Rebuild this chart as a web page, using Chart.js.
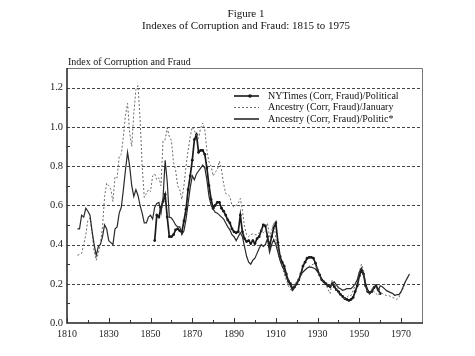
<!DOCTYPE html>
<html><head><meta charset="utf-8">
<script src="https://cdn.jsdelivr.net/npm/chart.js@4/dist/chart.umd.min.js"></script>
<style>html,body{margin:0;padding:0;background:#fff}canvas{display:block}</style>
</head><body>
<canvas id="c" width="475" height="356"></canvas>
<script>
const titleLines = ["Figure 1", "Indexes of Corruption and Fraud: 1815 to 1975"];
const yAxisTitle = "Index of Corruption and Fraud";
const seriesLabels = ["NYTimes (Corr, Fraud)/Political", "Ancestry (Corr, Fraud)/January", "Ancestry (Corr, Fraud)/Politic*"];
const xTickValues = [1810, 1830, 1850, 1870, 1890, 1910, 1930, 1950, 1970];
const xMinorTicks = [1820, 1840, 1860, 1880, 1900, 1920, 1940, 1960];
const yTickValues = [0, 0.2, 0.4, 0.6, 0.8, 1.0, 1.2];
const yMinorTicks = [0.1, 0.3, 0.5, 0.7, 0.9, 1.1];

const years = [
1815,1816,1817,1818,1819,1820,1821,1822,1823,1824,
1825,1826,1827,1828,1829,1830,1831,1832,1833,1834,
1835,1836,1837,1838,1839,1840,1841,1842,1843,1844,
1845,1846,1847,1848,1849,1850,1851,1852,1853,1854,
1855,1856,1857,1858,1859,1860,1861,1862,1863,1864,
1865,1866,1867,1868,1869,1870,1871,1872,1873,1874,
1875,1876,1877,1878,1879,1880,1881,1882,1883,1884,
1885,1886,1887,1888,1889,1890,1891,1892,1893,1894,
1895,1896,1897,1898,1899,1900,1901,1902,1903,1904,
1905,1906,1907,1908,1909,1910,1911,1912,1913,1914,
1915,1916,1917,1918,1919,1920,1921,1922,1923,1924,
1925,1926,1927,1928,1929,1930,1931,1932,1933,1934,
1935,1936,1937,1938,1939,1940,1941,1942,1943,1944,
1945,1946,1947,1948,1949,1950,1951,1952,1953,1954,
1955,1956,1957,1958,1959,1960,1961,1962,1963,1964,
1965,1966,1967,1968,1969,1970,1971,1972,1973,1974];

const nytimesPolitical = [
null,null,null,null,null,null,null,null,null,null,
null,null,null,null,null,null,null,null,null,null,
null,null,null,null,null,null,null,null,null,null,
null,null,null,null,null,null,null,0.42,0.55,0.54,
0.59,0.62,0.655,0.54,0.44,0.44,0.45,0.475,0.48,0.47,
0.465,0.52,0.58,0.68,0.75,0.83,0.935,0.96,0.87,0.88,
0.88,0.86,0.79,0.70,0.63,0.585,0.60,0.615,0.615,0.585,
0.57,0.55,0.525,0.51,0.48,0.465,0.46,0.465,0.55,0.465,
0.43,0.415,0.42,0.405,0.42,0.405,0.43,0.44,0.47,0.50,
0.495,0.44,0.39,0.44,0.485,0.51,0.41,0.34,0.31,0.29,
0.25,0.215,0.20,0.175,0.185,0.20,0.22,0.25,0.29,0.31,
0.33,0.335,0.335,0.33,0.305,0.27,0.245,0.22,0.21,0.20,
0.19,0.185,0.20,0.185,0.17,0.16,0.145,0.135,0.125,0.12,
0.115,0.12,0.13,0.16,0.19,0.24,0.27,0.25,0.19,0.16,
0.155,0.16,0.18,0.19,0.17,0.15,null,null,null,null,
null,null,null,null,null,null,null,null,null,null];

const ancestryJanuary = [
0.345,0.35,0.355,0.40,0.45,0.525,0.535,0.46,0.365,0.32,
0.355,0.405,0.49,0.645,0.713,0.70,0.68,0.62,0.745,0.74,
0.85,0.86,0.95,1.06,1.12,0.97,0.90,1.07,1.19,1.21,
1.04,0.80,0.64,0.66,0.68,0.67,0.75,0.76,0.73,0.74,
0.70,0.93,0.935,0.995,0.95,0.93,0.82,0.78,0.70,0.68,
0.63,0.70,0.80,0.88,0.95,1.0,0.98,0.96,0.94,0.995,
1.02,0.985,0.88,0.82,0.80,0.75,0.77,0.78,0.825,0.78,
0.71,0.66,0.655,0.645,0.60,0.59,0.60,0.61,0.635,0.575,
0.49,0.45,0.44,0.45,0.455,0.45,0.45,0.46,0.475,0.46,
0.47,0.51,0.44,0.47,0.51,0.43,0.38,0.33,0.29,0.25,
0.22,0.19,0.17,0.165,0.19,0.21,0.225,0.24,0.26,0.27,
0.28,0.29,0.295,0.30,0.29,0.28,0.25,0.22,0.21,0.20,
0.17,0.15,0.22,0.20,0.18,0.15,0.14,0.13,0.125,0.13,
0.14,0.14,0.165,0.19,0.21,0.26,0.30,0.27,0.20,0.16,
0.14,0.175,0.16,0.15,0.14,0.155,0.15,0.145,0.14,0.14,
0.135,0.13,0.125,0.12,0.13,0.16,0.175,0.21,0.22,null];

const ancestryPolitic = [
0.48,0.48,0.55,0.54,0.585,0.57,0.55,0.47,0.40,0.345,
0.39,0.40,0.44,0.50,0.48,0.42,0.41,0.40,0.48,0.49,
0.56,0.59,0.68,0.78,0.87,0.80,0.70,0.645,0.68,0.65,
0.60,0.56,0.51,0.51,0.54,0.55,0.53,0.59,0.61,0.615,
0.56,0.64,0.83,0.72,0.54,0.535,0.52,0.50,0.49,0.49,
0.45,0.47,0.53,0.61,0.69,0.75,0.73,0.76,0.775,0.79,
0.805,0.79,0.73,0.645,0.60,0.58,0.565,0.56,0.55,0.54,
0.53,0.51,0.49,0.475,0.45,0.44,0.42,0.44,0.46,0.44,
0.39,0.34,0.31,0.30,0.32,0.33,0.355,0.38,0.40,0.39,
0.40,0.43,0.36,0.40,0.425,0.40,0.36,0.32,0.29,0.27,
0.235,0.21,0.19,0.165,0.18,0.20,0.22,0.25,0.26,0.27,
0.28,0.285,0.285,0.28,0.275,0.26,0.245,0.22,0.21,0.20,
0.19,0.185,0.20,0.21,0.195,0.18,0.175,0.167,0.17,0.175,
0.175,0.175,0.185,0.20,0.22,0.26,0.28,0.25,0.20,0.17,
0.15,0.16,0.185,0.19,0.165,0.19,0.185,0.175,0.165,0.16,
0.155,0.15,0.14,0.145,0.145,0.16,0.185,0.21,0.23,0.25];

const toPoints = vals => years.map((y, i) => ({x: y, y: vals[i]})).filter(p => p.y !== null);
const SERIF = '"Liberation Serif", "Times New Roman", serif';

const styles = [
  {color: '#1a1a1a', width: 1.7, dash: [], radius: 1.4},
  {color: '#6a6a6a', width: 1, dash: [2, 2], radius: 0},
  {color: '#2a2a2a', width: 1.2, dash: [], radius: 0}
];
const seriesData = [nytimesPolitical, ancestryJanuary, ancestryPolitic];

const datasets = seriesData.map((vals, i) => ({
  label: seriesLabels[i],
  data: toPoints(vals),
  borderColor: styles[i].color,
  backgroundColor: styles[i].color,
  borderWidth: styles[i].width,
  borderDash: styles[i].dash,
  pointRadius: styles[i].radius,
  pointBorderWidth: 0,
  pointHoverRadius: 0,
  tension: 0,
  fill: false,
  spanGaps: false
})).reverse();

const framePlugin = {
  id: 'frame',
  beforeDatasetsDraw(chart) {
    const {ctx, chartArea: a, scales: {y}} = chart;
    ctx.save();
    ctx.strokeStyle = '#444';
    ctx.lineWidth = 1;
    ctx.setLineDash([3, 2]);
    yTickValues.forEach(v => {
      if (v === 0) return;
      const py = Math.round(y.getPixelForValue(v)) + 0.5;
      ctx.beginPath(); ctx.moveTo(a.left, py); ctx.lineTo(a.right, py); ctx.stroke();
    });
    ctx.restore();
  },
  afterDraw(chart) {
    const {ctx, chartArea: a, scales: {x, y}} = chart;
    ctx.save();
    ctx.setLineDash([]);
    ctx.strokeStyle = '#777';
    ctx.lineWidth = 1;
    ctx.beginPath();
    ctx.moveTo(a.left, a.top + 0.5); ctx.lineTo(a.right + 0.5, a.top + 0.5); ctx.lineTo(a.right + 0.5, a.bottom);
    ctx.stroke();
    ctx.strokeStyle = '#222';
    ctx.lineWidth = 1.5;
    ctx.beginPath();
    ctx.moveTo(a.left, a.top); ctx.lineTo(a.left, a.bottom); ctx.lineTo(a.right + 1, a.bottom);
    ctx.stroke();
    ctx.lineWidth = 1;
    ctx.strokeStyle = '#333';
    const xt = (v, len) => { const px = Math.round(x.getPixelForValue(v)) + 0.5; ctx.beginPath(); ctx.moveTo(px, a.bottom); ctx.lineTo(px, a.bottom - len); ctx.stroke(); };
    const yt = (v, len) => { const py = Math.round(y.getPixelForValue(v)) + 0.5; ctx.beginPath(); ctx.moveTo(a.left, py); ctx.lineTo(a.left + len, py); ctx.stroke(); };
    xTickValues.forEach(v => xt(v, 5));
    xMinorTicks.forEach(v => xt(v, 3));
    yMinorTicks.forEach(v => yt(v, 3));
    ctx.fillStyle = '#111';
    ctx.textAlign = 'center';
    ctx.textBaseline = 'middle';
    ctx.font = '11px ' + SERIF;
    ctx.fillText(titleLines[0], 246, 14);
    ctx.fillText(titleLines[1], 246, 26);
    ctx.textAlign = 'left';
    ctx.font = '10px ' + SERIF;
    ctx.fillText(yAxisTitle, 68, 62);
    const rows = [96, 107.5, 119];
    [0, 1, 2].forEach((si, r) => {
      const st = styles[si];
      const ly = rows[r];
      ctx.strokeStyle = st.color;
      ctx.lineWidth = si === 1 ? 1 : 1.6;
      ctx.setLineDash(st.dash);
      ctx.beginPath(); ctx.moveTo(234, ly); ctx.lineTo(259, ly); ctx.stroke();
      ctx.setLineDash([]);
      if (st.radius > 0) {
        ctx.fillStyle = st.color;
        ctx.beginPath(); ctx.arc(250, ly, 1.8, 0, Math.PI * 2); ctx.fill();
      }
      ctx.fillStyle = '#111';
      ctx.font = '10px ' + SERIF;
      ctx.fillText(seriesLabels[si], 268, ly);
    });
    ctx.restore();
  }
};

new Chart(document.getElementById('c'), {
  type: 'line',
  data: {datasets},
  options: {
    responsive: false,
    devicePixelRatio: 1,
    animation: false,
    events: [],
    layout: {padding: {top: 68, right: 53, bottom: 0, left: 0}},
    plugins: {legend: {display: false}, title: {display: false}, tooltip: {enabled: false}},
    scales: {
      x: {
        type: 'linear', min: 1810, max: 1980,
        afterBuildTicks: s => { s.ticks = xTickValues.map(v => ({value: v})); },
        afterFit: s => { s.height = 33; },
        grid: {display: false, drawTicks: false},
        border: {display: false},
        ticks: {color: '#222', font: {family: SERIF, size: 10}, padding: 5, maxRotation: 0, autoSkip: false,
                callback: v => String(v)}
      },
      y: {
        type: 'linear', min: 0, max: 1.3,
        afterBuildTicks: s => { s.ticks = yTickValues.map(v => ({value: v})); },
        afterFit: s => { s.width = 67; },
        grid: {display: false, drawTicks: false},
        border: {display: false},
        ticks: {color: '#222', font: {family: SERIF, size: 10.5}, padding: 4,
                callback: v => Number(v).toFixed(1)}
      }
    }
  },
  plugins: [framePlugin]
});
</script>
</body></html>
